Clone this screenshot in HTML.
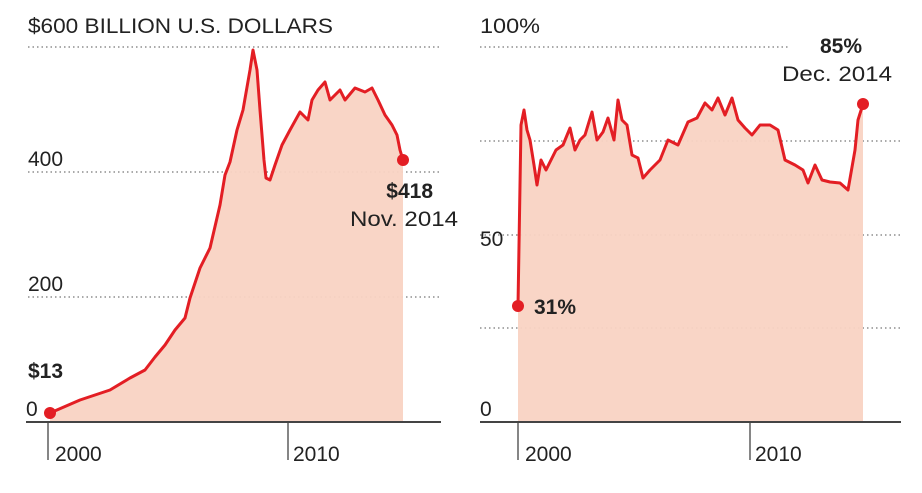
<!DOCTYPE html>
<html><head><meta charset="utf-8"><style>
html,body{margin:0;padding:0;background:#fff;}
svg{display:block;font-family:"Liberation Sans",sans-serif;}
text{fill:#222;font-size:21px;}
.b{font-weight:bold;}
</style></head><body>
<svg width="922" height="493" viewBox="0 0 922 493">
<g stroke="#777" stroke-width="1.3" stroke-dasharray="1.5 3">
<line x1="28" y1="47" x2="440" y2="47"/><line x1="28" y1="172" x2="440" y2="172"/><line x1="28" y1="297" x2="440" y2="297"/>
<line x1="480" y1="47" x2="790" y2="47"/><line x1="480" y1="141" x2="900" y2="141"/><line x1="480" y1="235" x2="900" y2="235"/><line x1="480" y1="328" x2="900" y2="328"/>
</g>
<polygon fill="#f9d3c3" fill-opacity="0.95" points="50,422 50,413 80,400 110,390 130,378 145,370 155,357 165,345 175,330 185,318 190,298 200,268 210,248 220,205 225,175 230,162 237,130 243,110 250,70 253,50 257,70 260,110 264,160 266,178 270,180 275,165 282,145 290,130 300,112 308,120 312,100 318,90 325,82 330,100 335,95 340,90 345,100 355,88 365,92 372,88 378,100 385,115 392,125 397,135 400,150 403,160 403,422"/>
<polyline fill="none" stroke="#e31e24" stroke-width="3" stroke-linejoin="round" points="50,413 80,400 110,390 130,378 145,370 155,357 165,345 175,330 185,318 190,298 200,268 210,248 220,205 225,175 230,162 237,130 243,110 250,70 253,50 257,70 260,110 264,160 266,178 270,180 275,165 282,145 290,130 300,112 308,120 312,100 318,90 325,82 330,100 335,95 340,90 345,100 355,88 365,92 372,88 378,100 385,115 392,125 397,135 400,150 403,160"/>
<circle cx="50" cy="413" r="6" fill="#e31e24"/><circle cx="403" cy="160" r="6" fill="#e31e24"/>
<polygon fill="#f9d3c3" fill-opacity="0.95" points="518,422 518,306 521,125 524,110 527,130 530,140 534,165 537,185 541,160 546,170 551,160 556,150 563,145 570,128 575,150 580,140 585,135 592,112 597,140 603,132 608,118 614,140 618,100 622,120 627,125 632,155 638,158 643,178 650,170 660,160 668,140 678,145 688,122 697,118 705,103 712,110 718,98 725,115 732,98 738,120 745,128 752,135 760,125 770,125 778,130 785,160 795,165 803,170 808,183 815,165 822,180 830,182 840,183 848,190 855,150 858,120 863,104 863,422"/>
<polyline fill="none" stroke="#e31e24" stroke-width="3" stroke-linejoin="round" points="518,306 521,125 524,110 527,130 530,140 534,165 537,185 541,160 546,170 551,160 556,150 563,145 570,128 575,150 580,140 585,135 592,112 597,140 603,132 608,118 614,140 618,100 622,120 627,125 632,155 638,158 643,178 650,170 660,160 668,140 678,145 688,122 697,118 705,103 712,110 718,98 725,115 732,98 738,120 745,128 752,135 760,125 770,125 778,130 785,160 795,165 803,170 808,183 815,165 822,180 830,182 840,183 848,190 855,150 858,120 863,104"/>
<circle cx="518" cy="306" r="6" fill="#e31e24"/><circle cx="863" cy="104" r="6" fill="#e31e24"/>
<g stroke="#444" stroke-width="2"><line x1="26" y1="422" x2="441" y2="422"/><line x1="480" y1="422" x2="901" y2="422"/></g>
<g stroke="#444" stroke-width="1.3"><line x1="48" y1="422" x2="48" y2="460"/><line x1="288" y1="422" x2="288" y2="460"/><line x1="518" y1="422" x2="518" y2="460"/><line x1="750" y1="422" x2="750" y2="460"/></g>
<text x="28" y="33" textLength="305" lengthAdjust="spacingAndGlyphs">$600 BILLION U.S. DOLLARS</text>
<text x="28" y="166">400</text><text x="28" y="291">200</text><text x="26" y="416">0</text>
<text x="28" y="378" class="b">$13</text>
<text x="433" y="198" class="b" text-anchor="end">$418</text>
<text x="458" y="226" text-anchor="end" textLength="108" lengthAdjust="spacingAndGlyphs">Nov. 2014</text>
<text x="480" y="33" textLength="60" lengthAdjust="spacingAndGlyphs">100%</text><text x="480" y="246">50</text><text x="480" y="416">0</text>
<text x="862" y="53" class="b" text-anchor="end">85%</text>
<text x="892" y="81" text-anchor="end" textLength="110" lengthAdjust="spacingAndGlyphs">Dec. 2014</text>
<text x="534" y="314" class="b">31%</text>
<text x="55" y="461">2000</text><text x="293" y="461">2010</text>
<text x="525" y="461">2000</text><text x="755" y="461">2010</text>
</svg>
</body></html>
